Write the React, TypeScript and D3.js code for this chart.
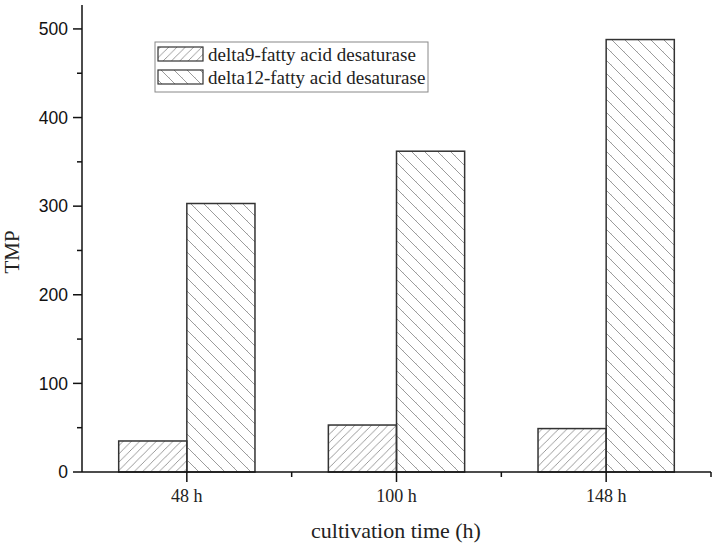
import React from "react";
import * as d3 from "d3";

const categories = ["48 h", "100 h", "148 h"];
const delta9 = [35, 53, 49];
const delta12 = [303, 362, 488];
const seriesNames = ["delta9-fatty acid desaturase", "delta12-fatty acid desaturase"];
const yTicks = [0, 100, 200, 300, 400, 500];
const yMinorTicks = [50, 150, 250, 350, 450];

const W = 717;
const H = 547;

export default function App() {
  const y = d3.scaleLinear().domain([0, 527]).range([472, 5]);
  const x = d3.scaleBand<string>().domain(categories).range([82, 711]).padding(0);
  const bw = x.bandwidth() * 0.325;
  const serif = "'Liberation Serif', 'Times New Roman', serif";
  const sans = "'Liberation Sans', Arial, sans-serif";
  const boundaries = categories.map((c) => (x(c) as number) + x.bandwidth()).slice(0, -1);
  const xEnd = 711;

  return (
    <svg
      width={W}
      height={H}
      style={{ position: "absolute", left: 0, top: 0, background: "#fff" }}
    >
      <defs>
        <pattern id="fwd" patternUnits="userSpaceOnUse" width={8.3} height={8.3}>
          <path d="M-2,2.1 L2.1,-2 M0,8.3 L8.3,0 M6.2,10.4 L10.4,6.2" stroke="#909090" strokeWidth={0.9} />
        </pattern>
        <pattern id="back" patternUnits="userSpaceOnUse" width={13} height={13}>
          <path d="M-3,9.75 L3.25,16 M0,0 L13,13 M9.75,-3.25 L16,3" stroke="#909090" strokeWidth={0.9} />
        </pattern>
      </defs>
      <rect x={0} y={0} width={W} height={H} fill="#fff" />

      {/* bars */}
      {categories.map((c, i) => {
        const cx = (x(c) as number) + x.bandwidth() / 2;
        return (
          <g key={c}>
            <rect
              x={cx - bw}
              y={y(delta9[i])}
              width={bw}
              height={y(0) - y(delta9[i])}
              fill="url(#fwd)"
              stroke="#333"
              strokeWidth={1.5}
            />
            <rect
              x={cx}
              y={y(delta12[i])}
              width={bw}
              height={y(0) - y(delta12[i])}
              fill="url(#back)"
              stroke="#333"
              strokeWidth={1.5}
            />
          </g>
        );
      })}

      {/* y axis */}
      <line x1={82} x2={82} y1={5} y2={472} stroke="#111" strokeWidth={1.5} />
      {yTicks.map((t) => (
        <g key={t}>
          <line x1={73} x2={82} y1={y(t)} y2={y(t)} stroke="#111" strokeWidth={1.5} />
          <text x={68} y={y(t)} dy="0.35em" textAnchor="end" fontFamily={sans} fontSize={17.5} fill="#111">
            {t}
          </text>
        </g>
      ))}
      {yMinorTicks.map((t) => (
        <line key={t} x1={77} x2={82} y1={y(t)} y2={y(t)} stroke="#111" strokeWidth={1.5} />
      ))}

      {/* x axis */}
      <line x1={82} x2={xEnd} y1={472} y2={472} stroke="#111" strokeWidth={1.5} />
      {categories.map((c) => {
        const cx = (x(c) as number) + x.bandwidth() / 2;
        return (
          <g key={c}>
            <line x1={cx} x2={cx} y1={472} y2={482} stroke="#111" strokeWidth={1.5} />
            <text x={cx} y={502} textAnchor="middle" fontFamily={serif} fontSize={18} fill="#222">
              {c}
            </text>
          </g>
        );
      })}
      {[...boundaries, xEnd].map((b, i) => (
        <line key={i} x1={b} x2={b} y1={472} y2={477} stroke="#111" strokeWidth={1.5} />
      ))}

      {/* axis titles */}
      <text x={396} y={538} textAnchor="middle" fontFamily={serif} fontSize={22} fill="#222">
        cultivation time (h)
      </text>
      <text
        transform={`translate(19,252) rotate(-90)`}
        textAnchor="middle"
        fontFamily={serif}
        fontSize={21}
        fill="#222"
      >
        TMP
      </text>

      {/* legend */}
      <rect x={155} y={42} width={273} height={50} fill="#fff" stroke="#888" strokeWidth={1} />
      {seriesNames.map((n, i) => (
        <g key={n}>
          <rect
            x={158}
            y={47 + i * 23}
            width={45}
            height={14}
            fill={i === 0 ? "url(#fwd)" : "url(#back)"}
            stroke="#333"
            strokeWidth={1.2}
          />
          <text x={208} y={61 + i * 23} fontFamily={serif} fontSize={19} fill="#222">
            {n}
          </text>
        </g>
      ))}
    </svg>
  );
}
